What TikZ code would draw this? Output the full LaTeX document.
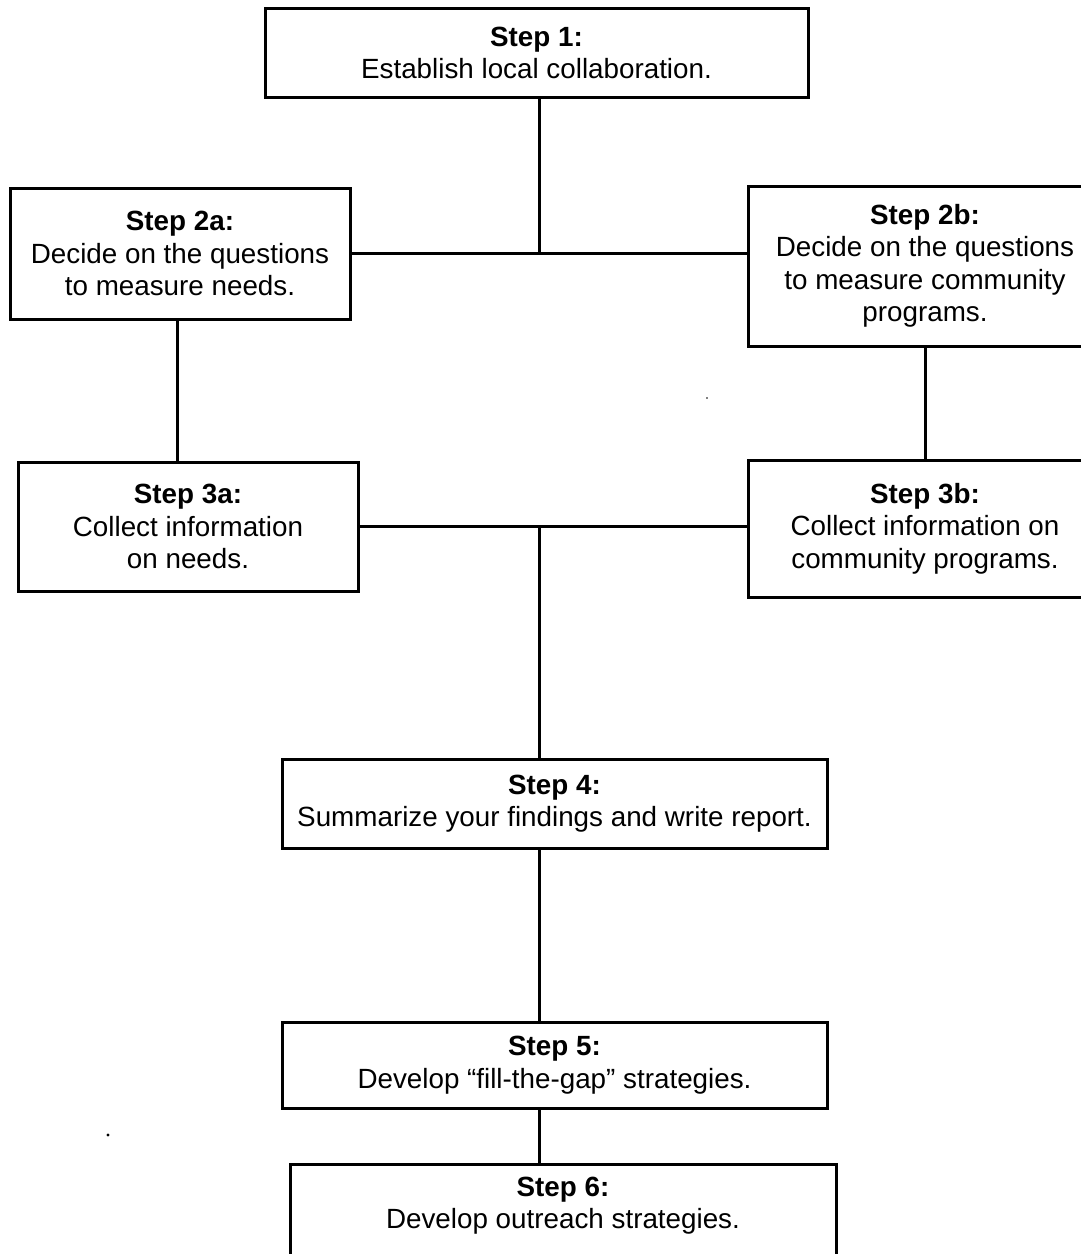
\documentclass[tikz,border=0pt]{standalone}
\usepackage{fontspec}
\setmainfont{Liberation Sans}
\begin{document}
\begin{tikzpicture}[x=1pt,y=-1pt,
  stepbox/.style={draw=black, line width=3pt, rectangle, align=center, inner sep=0pt,
    font=\fontsize{27.8}{32.5}\selectfont},
  conn/.style={draw=black, line width=3pt}]
\useasboundingbox (0,0) rectangle (1081,1254);
\clip (0,0) rectangle (1081,1254);
\fill[white] (0,0) rectangle (1081,1254);

\node[stepbox, minimum width=543pt, minimum height=89pt] (s1) at (536.5,53)
  {\textbf{Step 1:}\\Establish local collaboration.};
\node[stepbox, minimum width=340pt, minimum height=131pt] (s2a) at (180,253.5)
  {\textbf{Step 2a:}\\Decide on the questions\\to measure needs.};
\node[stepbox, minimum width=354pt, minimum height=160pt] (s2b) at (925,266)
  {\textbf{Step 2b:}\\Decide on the questions\\to measure community\\programs.};
\node[stepbox, minimum width=340pt, minimum height=129pt] (s3a) at (188,526.5)
  {\textbf{Step 3a:}\\Collect information\\on needs.};
\node[stepbox, minimum width=354pt, minimum height=137pt] (s3b) at (925,528.5)
  {\textbf{Step 3b:}\\Collect information on\\community programs.};
\node[stepbox, minimum width=545pt, minimum height=89pt] (s4) at (554.5,803.5)
  {\textbf{Step 4:}\\Summarize your findings and write report.};
\node[stepbox, minimum width=545pt, minimum height=86pt] (s5) at (554.5,1065)
  {\textbf{Step 5:}\\Develop “fill-the-gap” strategies.};
\node[stepbox, minimum width=546pt, minimum height=120pt] (s6) at (563,1224)
  {\textbf{Step 6:}\\Develop outreach strategies.\\\strut};

\coordinate (spine) at (539,0);
\coordinate (leftx) at (177,0);

\draw[conn] (s1.south -| spine) -- (spine |- s2a.east);
\draw[conn] (s2a.east) -- (s2a.east -| s2b.west);
\draw[conn] (s2a.south -| leftx) -- (leftx |- s3a.north);
\draw[conn] (s2b.south) -- (s2b.south |- s3b.north);
\draw[conn] (s3a.east) -- (s3a.east -| s3b.west);
\draw[conn] (spine |- s3a.east) -- (spine |- s4.north);
\draw[conn] (s4.south -| spine) -- (spine |- s5.north);
\draw[conn] (s5.south -| spine) -- (spine |- s6.north);

\fill (108,1135) circle (1.6pt);
\fill (707,398) circle (0.8pt);
\end{tikzpicture}
\end{document}
